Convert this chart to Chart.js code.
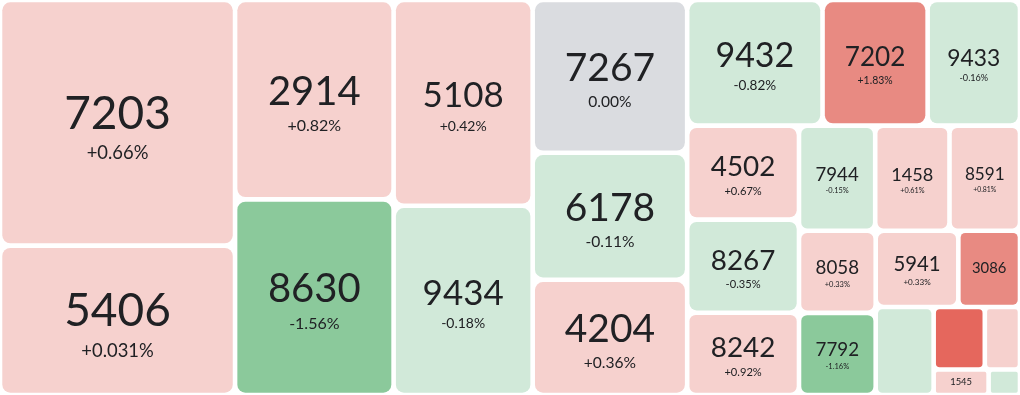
<!DOCTYPE html>
<html lang="en">
<head>
    <meta charset="UTF-8">
    <title>Treemap</title>
    <script src="https://cdn.jsdelivr.net/npm/chart.js"></script>
    <style>
        html, body { margin: 0; padding: 0; background: #ffffff; }
        .chart-container { width: 1020px; height: 395px; position: relative; }
    </style>
</head>
<body>
    <div class="chart-container">
        <canvas id="treemapChart"></canvas>
    </div>

    <script>
        // tile data (codes, last change in %, relative size of each tile)
        var codes   = ['7203', '5406', '2914', '8630', '5108', '9434', '7267', '6178', '4204',
                       '9432', '7202', '9433', '4502', '8267', '8242', '7944', '1458', '8591',
                       '8058', '7792', '5941', '3086', '', '', '', '1545', ''];
        var changes = [0.66, 0.031, 0.82, -1.56, 0.42, -0.18, 0.00, -0.11, 0.36,
                       -0.82, 1.83, -0.16, 0.67, -0.35, 0.92, -0.15, 0.61, 0.81,
                       0.33, -1.16, 0.33, 1.40, -0.40, 2.60, 0.50, 0.30, -0.20];
        var sizes   = [577, 351, 316, 310, 286, 263, 236, 196, 178,
                       170, 132, 116, 105, 104, 92, 80, 78, 74,
                       63, 63, 63, 47, 51, 32, 22, 14, 8];

        function tileColor(c) {
            if (c === 0) return '#dadce0';
            if (c > 0) {
                if (c >= 2) return '#e5675d';
                if (c >= 1) return '#e88a82';
                return '#f6d1ce';
            }
            if (c <= -1) return '#8bc99b';
            return '#d1e9d9';
        }

        function worst(row, side) {
            var s = 0, mx = -Infinity, mn = Infinity;
            row.forEach(function (r) { s += r; mx = Math.max(mx, r); mn = Math.min(mn, r); });
            var s2 = s * s, w2 = side * side;
            return Math.max(w2 * mx / s2, s2 / (w2 * mn));
        }

        // squarified layout, keeps the given order
        function squarify(vals, x, y, w, h) {
            var total = vals.reduce(function (a, b) { return a + b; }, 0);
            var areas = vals.map(function (v) { return v * w * h / total; });
            var rects = [];
            var i = 0;
            while (i < areas.length) {
                var side = Math.min(w, h);
                var row = [areas[i]];
                var j = i + 1;
                while (j < areas.length && worst(row.concat([areas[j]]), side) <= worst(row, side)) {
                    row.push(areas[j]);
                    j++;
                }
                var s = row.reduce(function (a, b) { return a + b; }, 0);
                if (w >= h) {
                    var cw = s / h, cy = y;
                    row.forEach(function (a) {
                        rects.push({ x0: x, y0: cy, x1: x + cw, y1: cy + a / cw });
                        cy += a / cw;
                    });
                    x += cw; w -= cw;
                } else {
                    var rh = s / w, cx = x;
                    row.forEach(function (a) {
                        rects.push({ x0: cx, y0: y, x1: cx + a / rh, y1: y + rh });
                        cx += a / rh;
                    });
                    y += rh; h -= rh;
                }
                i = j;
            }
            return rects;
        }

        var treemapPlugin = {
            id: 'treemap',
            afterDraw: function (chart) {
                var ctx = chart.ctx;
                var xs = chart.scales.x, ys = chart.scales.y;
                var area = chart.chartArea;
                var aspect = (area.right - area.left) / (area.bottom - area.top);
                // layout in value space: x from 0..1, y from 0..1 (aspect-corrected)
                var rects = squarify(sizes, 0, 0, aspect, 1);
                var gap = 2.3;
                var font = "'Lato', 'DejaVu Sans', sans-serif";

                rects.forEach(function (r, k) {
                    var px0 = xs.getPixelForValue(r.x0 / aspect) + gap;
                    var px1 = xs.getPixelForValue(r.x1 / aspect) - gap;
                    var py0 = ys.getPixelForValue(r.y0) + gap;
                    var py1 = ys.getPixelForValue(r.y1) - gap;
                    var w = px1 - px0, h = py1 - py0;
                    var rad = Math.min(8, 0.08 * Math.min(w, h));

                    ctx.save();
                    ctx.fillStyle = tileColor(changes[k]);
                    ctx.beginPath();
                    ctx.roundRect(px0, py0, w, h, rad);
                    ctx.fill();

                    if (codes[k]) {
                        var fs = Math.min(46, 0.26 * w, 0.45 * h);
                        var cx = (px0 + px1) / 2, cy = (py0 + py1) / 2;
                        var showChange = w >= 62 && h >= 40;
                        ctx.fillStyle = '#202124';
                        ctx.textAlign = 'center';
                        ctx.textBaseline = 'alphabetic';
                        ctx.font = fs + 'px ' + font;
                        var priceMid = showChange ? cy - 0.23 * fs : cy - 0.05 * fs;
                        ctx.fillText(codes[k], cx, priceMid + 0.36 * fs);
                        if (showChange) {
                            var cfs = 0.4 * fs;
                            var c = changes[k];
                            var txt = (c > 0 ? '+' : '') + (c === 0.031 ? '0.031' : c.toFixed(2)) + '%';
                            ctx.font = cfs + 'px ' + font;
                            ctx.fillText(txt, cx, cy + 0.65 * fs + 0.36 * cfs);
                        }
                    }
                    ctx.restore();
                });
            }
        };

        var ctxTree = document.getElementById('treemapChart').getContext('2d');
        var treemapChart = new Chart(ctxTree, {
            type: 'scatter',
            data: { datasets: [] },
            options: {
                responsive: true,
                maintainAspectRatio: false,
                animation: false,
                layout: { padding: 0 },
                plugins: { legend: { display: false }, tooltip: { enabled: false } },
                scales: {
                    x: { type: 'linear', min: 0, max: 1, display: false },
                    y: { type: 'linear', min: 0, max: 1, reverse: true, display: false }
                }
            },
            plugins: [treemapPlugin]
        });
    </script>
</body>
</html>
